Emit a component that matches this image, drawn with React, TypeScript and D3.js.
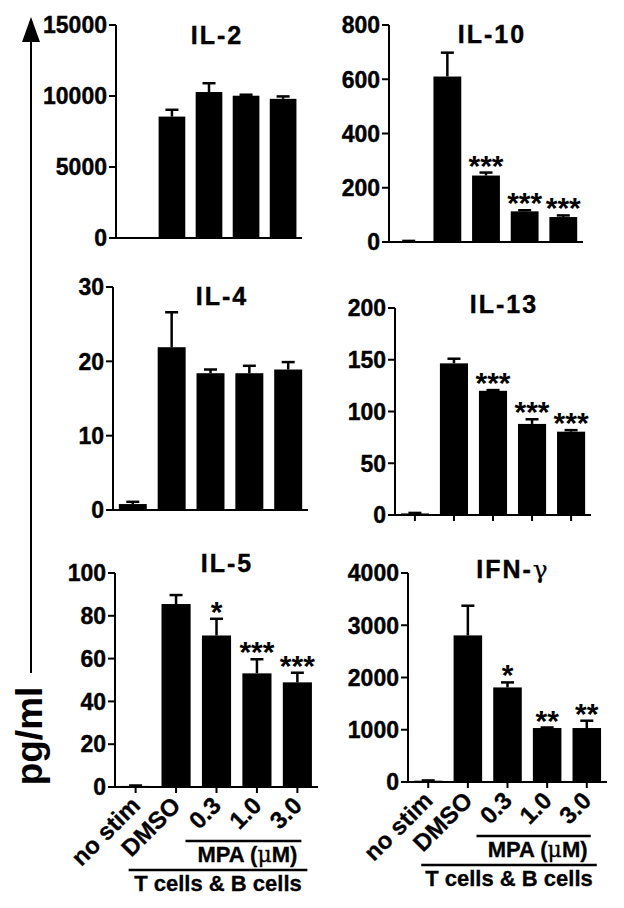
import { scaleBand, scaleLinear } from "d3";

const FONT = "'Liberation Sans', Arial, Helvetica, sans-serif";

const categories = ["no stim", "DMSO", "0.3", "1.0", "3.0"];

// mean and upper error (SEM)
const il2Mean = [0, 8550, 10280, 10020, 9800];
const il2Err = [0, 480, 620, 70, 170];
const il10Mean = [3, 610, 245, 113, 92];
const il10Err = [1, 88, 11, 4, 6];
const il4Mean = [0.8, 21.9, 18.4, 18.4, 18.9];
const il4Err = [0.3, 4.7, 0.5, 1.0, 1.0];
const il13Mean = [1.5, 146.5, 120, 88, 80.5];
const il13Err = [0.5, 4.5, 0.7, 4.5, 1.5];
const il5Mean = [0.5, 85.5, 70.8, 53.1, 48.9];
const il5Err = [0.2, 4.2, 7.8, 6.6, 4.5];
const ifnMean = [25, 2806, 1810, 1033, 1033];
const ifnErr = [5, 568, 96, 10, 140];

const il10Stars = ["", "", "***", "***", "***"];
const il13Stars = ["", "", "***", "***", "***"];
const il5Stars = ["", "", "*", "***", "***"];
const ifnStars = ["", "", "*", "**", "**"];
const noStars = ["", "", "", "", ""];

const il2Ticks = [0, 5000, 10000, 15000];
const il10Ticks = [0, 200, 400, 600, 800];
const il4Ticks = [0, 10, 20, 30];
const il13Ticks = [0, 50, 100, 150, 200];
const il5Ticks = [0, 20, 40, 60, 80, 100];
const ifnTicks = [0, 1000, 2000, 3000, 4000];

type PanelDef = {
  title: string;
  mean: number[];
  err: number[];
  stars: string[];
  ticks: number[];
  left: number;
  right: number;
  top: number;
  bottom: number;
  titleX: number;
  titleY: number;
  xTicks: boolean;
  labels: boolean;
};

const panels: PanelDef[] = [
  { title: "IL-2", mean: il2Mean, err: il2Err, stars: noStars, ticks: il2Ticks,
    left: 116, right: 302, top: 25, bottom: 238, titleX: 217, titleY: 44, xTicks: false, labels: false },
  { title: "IL-10", mean: il10Mean, err: il10Err, stars: il10Stars, ticks: il10Ticks,
    left: 389, right: 583, top: 25, bottom: 242, titleX: 492, titleY: 43, xTicks: false, labels: false },
  { title: "IL-4", mean: il4Mean, err: il4Err, stars: noStars, ticks: il4Ticks,
    left: 113, right: 308, top: 287, bottom: 510, titleX: 222, titleY: 305, xTicks: false, labels: false },
  { title: "IL-13", mean: il13Mean, err: il13Err, stars: il13Stars, ticks: il13Ticks,
    left: 395, right: 591, top: 308, bottom: 515, titleX: 504, titleY: 313, xTicks: true, labels: false },
  { title: "IL-5", mean: il5Mean, err: il5Err, stars: il5Stars, ticks: il5Ticks,
    left: 115, right: 318, top: 573, bottom: 787, titleX: 227, titleY: 572, xTicks: true, labels: true },
  { title: "IFN-", mean: ifnMean, err: ifnErr, stars: ifnStars, ticks: ifnTicks,
    left: 408, right: 607, top: 573, bottom: 782, titleX: 513, titleY: 578, xTicks: true, labels: true },
];

function Panel({ p }: { p: PanelDef }) {
  const x = scaleBand<string>().domain(categories).range([p.left, p.right]).paddingInner(0.28).paddingOuter(0.15);
  const y = scaleLinear().domain([0, p.ticks[p.ticks.length - 1]]).range([p.bottom, p.top]);
  const bw = x.bandwidth();
  const cx = (c: string) => (x(c) as number) + bw / 2;
  const c1 = cx(categories[0]);
  const c3 = cx(categories[2]);
  const c5 = cx(categories[4]);
  const mpaL = c3 - 31;
  const mpaR = c5 + 4;
  const allL = c1 - 7;
  const allR = c5 + 10;
  const isIfn = p.title === "IFN-";

  return (
    <g>
      <text x={p.titleX} y={p.titleY} textAnchor="middle" fontSize={25} fontWeight="bold" letterSpacing={2}
        stroke="#000" strokeWidth={0.4}>
        {p.title}
        {isIfn && <tspan fontWeight="normal" fontFamily="'DejaVu Serif', serif" strokeWidth={0.2}>γ</tspan>}
      </text>
      {categories.map((c, i) => {
        const top = y(p.mean[i]);
        const et = y(p.mean[i] + p.err[i]);
        return (
          <g key={c}>
            {p.mean[i] > 0 && (
              <rect x={x(c)} y={top} width={bw} height={p.bottom - top} fill="#000" />
            )}
            {p.err[i] > 0 && (
              <g stroke="#000" strokeWidth={2.5}>
                <line x1={cx(c)} x2={cx(c)} y1={top} y2={et} />
                <line x1={cx(c) - 6.5} x2={cx(c) + 6.5} y1={et} y2={et} />
              </g>
            )}
            {p.stars[i] && (
              <text x={cx(c)} y={et + 3} textAnchor="middle" fontSize={30} fontWeight="bold">
                {p.stars[i]}
              </text>
            )}
            {p.xTicks && (
              <line x1={cx(c)} x2={cx(c)} y1={p.bottom} y2={p.bottom + 6} stroke="#000" strokeWidth={2} />
            )}
            {p.labels && (
              <text
                transform={`translate(${cx(c) + 6},${p.bottom + 20}) rotate(-45)`}
                textAnchor="end"
                fontSize={24}
                fontWeight="bold"
                stroke="#000"
                strokeWidth={0.3}
              >
                {c}
              </text>
            )}
          </g>
        );
      })}
      <line x1={p.left} x2={p.right} y1={p.bottom} y2={p.bottom} stroke="#000" strokeWidth={2} />
      <line x1={p.left} x2={p.left} y1={p.bottom + 1} y2={p.top} stroke="#000" strokeWidth={2} />
      {p.ticks.map((t) => (
        <g key={t}>
          <line x1={p.left - 7} x2={p.left} y1={y(t)} y2={y(t)} stroke="#000" strokeWidth={2} />
          <text x={p.left - 9} y={y(t)} dy="0.36em" textAnchor="end" fontSize={23} fontWeight="bold"
            stroke="#000" strokeWidth={0.4}>
            {t}
          </text>
        </g>
      ))}
      {p.labels && (
        <g>
          <line x1={mpaL} x2={mpaR} y1={p.bottom + 54} y2={p.bottom + 54} stroke="#000" strokeWidth={2.5} />
          <text x={(mpaL + mpaR) / 2 + 4} y={p.bottom + 75} textAnchor="middle" fontSize={22} fontWeight="bold"
            stroke="#000" strokeWidth={0.3}>
            MPA (<tspan fontWeight="normal" fontFamily="'DejaVu Serif', serif">μ</tspan>M)
          </text>
          <line x1={allL} x2={allR} y1={p.bottom + 83} y2={p.bottom + 83} stroke="#000" strokeWidth={2.5} />
          <text x={(allL + allR) / 2} y={p.bottom + 104} textAnchor="middle" fontSize={22} fontWeight="bold"
            stroke="#000" strokeWidth={0.3}>
            T cells &amp; B cells
          </text>
        </g>
      )}
    </g>
  );
}

export default function App() {
  return (
    <svg
      width={624}
      height={908}
      style={{ position: "absolute", left: 0, top: 0, background: "#fff" }}
      fontFamily={FONT}
      fill="#000"
    >
      <rect width={624} height={908} fill="#fff" />
      <line x1={31} x2={31} y1={673} y2={40} stroke="#000" strokeWidth={2} />
      <path d="M31,17 L40,42 L22,42 Z" fill="#000" />
      <text transform="translate(42,736) rotate(-90)" textAnchor="middle" fontSize={37} fontWeight="bold">
        pg/ml
      </text>
      {panels.map((p) => (
        <Panel key={p.title} p={p} />
      ))}
    </svg>
  );
}
